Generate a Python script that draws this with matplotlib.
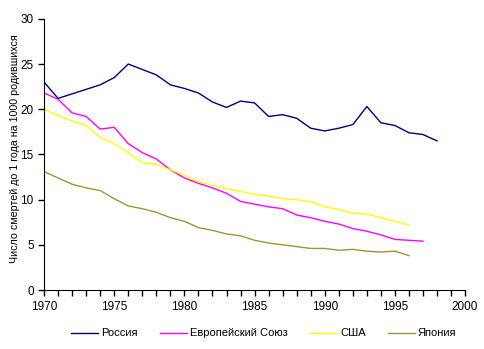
import matplotlib
matplotlib.use('Agg')
import matplotlib.pyplot as plt
from matplotlib.ticker import MultipleLocator

plt.rcParams['font.family'] = ['Liberation Sans', 'DejaVu Sans']

years = list(range(1970, 1999))
russia = [23.0, 21.2, 21.7, 22.2, 22.7, 23.5, 25.0, 24.4, 23.8, 22.7, 22.3, 21.8,
          20.8, 20.2, 20.9, 20.7, 19.2, 19.4, 19.0, 17.9, 17.6, 17.9, 18.3, 20.3,
          18.5, 18.2, 17.4, 17.2, 16.5]
eu = [21.8, 21.1, 19.6, 19.2, 17.8, 18.0, 16.2, 15.2, 14.5, 13.3, 12.4, 11.8,
      11.3, 10.7, 9.8, 9.5, 9.2, 9.0, 8.3, 8.0, 7.6, 7.3, 6.8, 6.5, 6.1, 5.6,
      5.5, 5.4]
usa = [20.0, 19.3, 18.7, 18.2, 16.9, 16.2, 15.2, 14.1, 13.9, 13.3, 12.7, 12.0,
       11.6, 11.2, 10.9, 10.6, 10.4, 10.1, 10.0, 9.8, 9.2, 8.9, 8.5, 8.4, 8.0,
       7.6, 7.2]
japan = [13.1, 12.4, 11.7, 11.3, 11.0, 10.1, 9.3, 9.0, 8.6, 8.0, 7.6, 6.9, 6.6,
         6.2, 6.0, 5.5, 5.2, 5.0, 4.8, 4.6, 4.6, 4.4, 4.5, 4.3, 4.2, 4.3, 3.8]

labels = ['Россия', 'Европейский Союз', 'США', 'Япония']
colors = ['#000080', '#ff00ff', '#ffff00', '#999933']

fig = plt.figure(figsize=(4.84, 3.49), dpi=100)
ax = fig.add_axes([0.091, 0.169, 0.870, 0.777])

series = [russia, eu, usa, japan]
for vals, lab, col in zip(series, labels, colors):
     ax.plot(years[:len(vals)], vals, color=col, linewidth=1.0, label=lab)

ax.set_xlim(1970, 2000)
ax.set_ylim(0, 30)
ax.xaxis.set_major_locator(MultipleLocator(5))
ax.xaxis.set_minor_locator(MultipleLocator(1))
ax.yaxis.set_major_locator(MultipleLocator(5))
ax.tick_params(axis='both', which='both', direction='out', length=4,
               width=1, labelsize=8.5, color='black')
ax.tick_params(axis='x', pad=4)
ax.spines['top'].set_visible(False)
ax.spines['right'].set_visible(False)
ax.set_ylabel('Число смертей до 1 года на 1000 родившихся', fontsize=7.7)
ax.yaxis.set_label_coords(-0.056, 0.52)

ax.legend(loc='upper center', bbox_to_anchor=(0.522, -0.105), ncol=4,
          frameon=False, fontsize=8, handlelength=2.4, columnspacing=2.0,
          handletextpad=0.3)

fig.savefig('out.png', dpi=100)
